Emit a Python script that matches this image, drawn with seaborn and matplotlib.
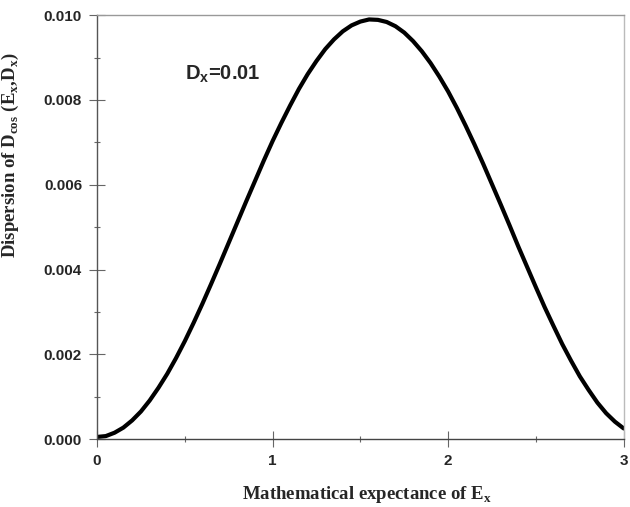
import matplotlib
matplotlib.use("Agg")
import matplotlib.pyplot as plt
import seaborn as sns
import pandas as pd
from matplotlib.ticker import MultipleLocator, FormatStrFormatter

# valeurs (pas de 0.05)
esperance = [0.00, 0.05, 0.10, 0.15, 0.20, 0.25, 0.30, 0.35, 0.40, 0.45,
             0.50, 0.55, 0.60, 0.65, 0.70, 0.75, 0.80, 0.85, 0.90, 0.95,
             1.00, 1.05, 1.10, 1.15, 1.20, 1.25, 1.30, 1.35, 1.40, 1.45,
             1.50, 1.55, 1.60, 1.65, 1.70, 1.75, 1.80, 1.85, 1.90, 1.95,
             2.00, 2.05, 2.10, 2.15, 2.20, 2.25, 2.30, 2.35, 2.40, 2.45,
             2.50, 2.55, 2.60, 2.65, 2.70, 2.75, 2.80, 2.85, 2.90, 2.95,
             3.00]
dispersion = [0.00005, 0.00007, 0.00015, 0.00027, 0.00044, 0.00065, 0.00091,
              0.00121, 0.00154, 0.00191, 0.00231, 0.00274, 0.00319, 0.00366,
              0.00414, 0.00463, 0.00512, 0.00561, 0.00609, 0.00657, 0.00703,
              0.00746, 0.00787, 0.00826, 0.00861, 0.00892, 0.00920, 0.00943,
              0.00962, 0.00976, 0.00985, 0.00990, 0.00989, 0.00984, 0.00974,
              0.00959, 0.00939, 0.00915, 0.00887, 0.00855, 0.00820, 0.00781,
              0.00739, 0.00695, 0.00649, 0.00601, 0.00553, 0.00504, 0.00454,
              0.00406, 0.00358, 0.00311, 0.00267, 0.00224, 0.00185, 0.00148,
              0.00116, 0.00086, 0.00061, 0.00041, 0.00025]
y_ticks = [0.000, 0.002, 0.004, 0.006, 0.008, 0.010]
x_ticks = [0, 1, 2, 3]

df = pd.DataFrame({"esperance": esperance, "dispersion": dispersion})

sns.set_style("ticks")
plt.rcParams["font.family"] = ["Liberation Sans", "DejaVu Sans"]
plt.rcParams["mathtext.fontset"] = "custom"
plt.rcParams["mathtext.rm"] = "Liberation Serif:bold"
plt.rcParams["mathtext.bf"] = "Liberation Serif:bold"
plt.rcParams["mathtext.sf"] = "Liberation Sans:bold"

fig = plt.figure(figsize=(6.3, 5.07), dpi=100)
ax = fig.add_axes([0.154, 0.134, 0.836, 0.836])

sns.lineplot(data=df, x="esperance", y="dispersion", color="black",
             linewidth=3, ax=ax)

ax.set_xlim(0, 3)
ax.set_ylim(0, 0.010)
ax.set_xticks(x_ticks)
ax.set_yticks(y_ticks)
ax.xaxis.set_minor_locator(MultipleLocator(0.5))
ax.yaxis.set_minor_locator(MultipleLocator(0.001))
ax.yaxis.set_major_formatter(FormatStrFormatter("%.3f"))

ax.tick_params(which="major", direction="inout", length=11.5, width=0.8,
               color="#666666", pad=5)
ax.tick_params(which="minor", direction="inout", length=5, width=0.8,
               color="#666666")
for lab in ax.get_xticklabels() + ax.get_yticklabels():
    lab.set_fontweight("bold")
    lab.set_fontsize(11)

ax.spines["left"].set_color("#555555")
ax.spines["bottom"].set_color("#444444")
ax.spines["top"].set_color("#999999")
ax.spines["right"].set_color("#bbbbbb")
for s in ax.spines.values():
    s.set_linewidth(1)

serif = ["Liberation Serif", "DejaVu Serif"]
ax.set_xlabel(r"Mathematical expectance of E$_{\mathrm{x}}$", fontsize=13.5,
              fontweight="bold", family=serif)
ax.xaxis.set_label_coords(0.513, -0.105)
ax.set_ylabel(r"Dispersion of D$_{\mathrm{cos}}$ (E$_{\mathrm{x}}$,D$_{\mathrm{x}}$)",
              fontsize=13.5, fontweight="bold", family=serif)
ax.yaxis.set_label_coords(-0.145, 0.67)

ax.text(0.5, 0.00847, r"$\mathsf{D_x}$=0.01", fontsize=14.5,
        fontweight="bold", va="baseline", ha="left")

fig.savefig("out.png", dpi=100)
